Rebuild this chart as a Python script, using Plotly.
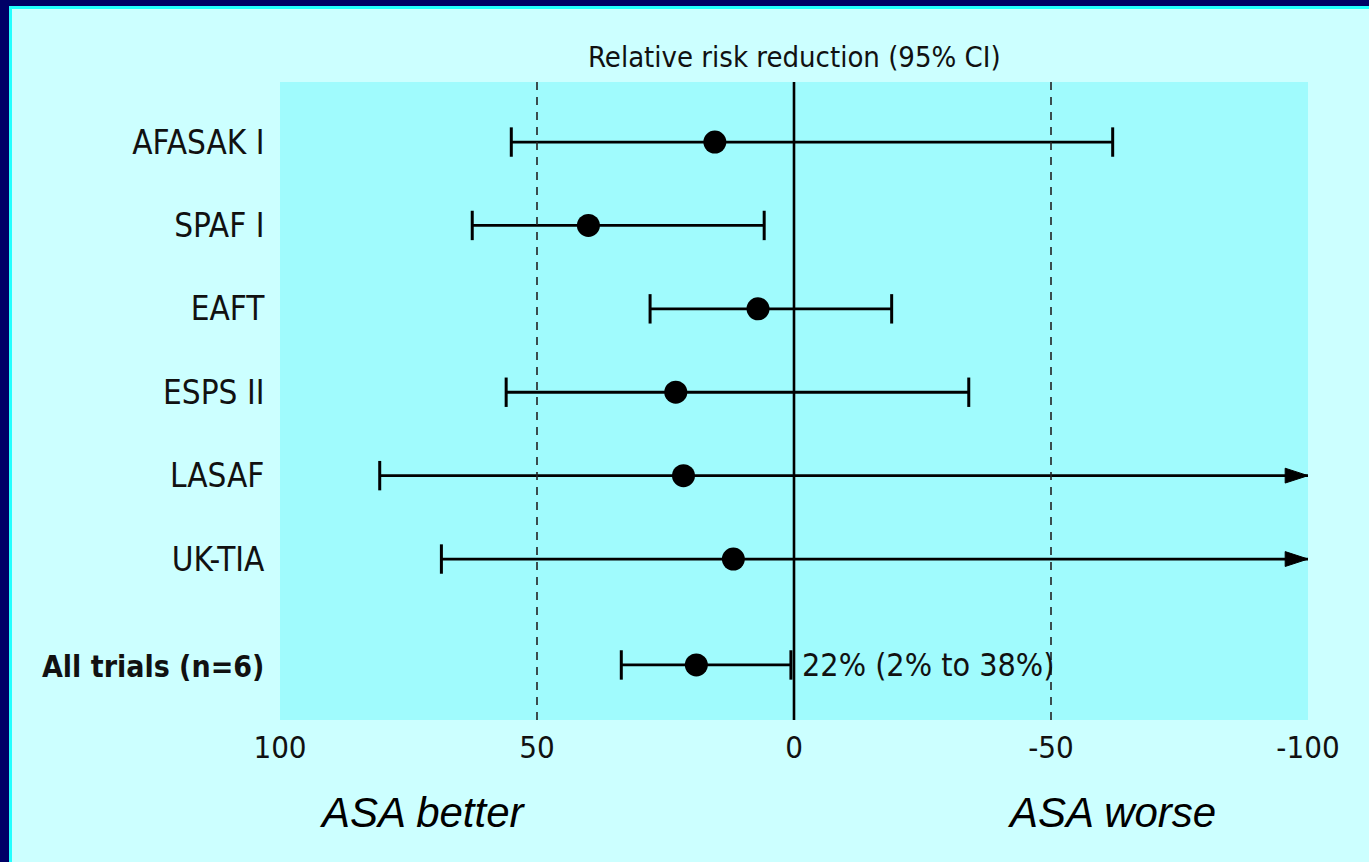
import plotly.graph_objects as go

# ---- data ----
trials = ["AFASAK I", "SPAF I", "EAFT", "ESPS II", "LASAF", "UK-TIA", "All trials (n=6)"]
rrr = [15.4, 40, 7, 23, 21.5, 11.8, 19]          # point estimate (%)
ci_low_side = [55, 62.6, 28, 56, 80.6, 68.6, 33.6]  # upper limit of RRR (left end)
ci_high_side = [-62, 5.8, -19, -34, None, None, 0.6]  # lower limit (right end); None = beyond -100
row_pos = [1, 2, 3, 4, 5, 6, 7.27]
x_ticks = [100, 50, 0, -50, -100]
ref_dashed = [50, -50]
summary_text = "22% (2% to 38%)"

W, H = 1369, 862
ML, MR, MT, MB = 280, 61, 82, 142
PW, PH = W - ML - MR, H - MT - MB

def pxx(p):
    return (p - ML) / PW

def pxy(p):
    return 1 - (p - MT) / PH

NAVY = "#000066"
CYAN = "#22ffff"
PAGE = "#ccffff"
PLOT = "#a0fbfd"
FONT_N = "Liberation Sans Narrow, Arial Narrow, DejaVu Sans Condensed, sans-serif"

fig = go.Figure()

xmin = min(x_ticks)
for i, name in enumerate(trials):
    hi = ci_high_side[i]
    open_end = hi is None
    xe = xmin if open_end else hi
    fig.add_trace(go.Scatter(
        x=[ci_low_side[i], xe], y=[row_pos[i], row_pos[i]],
        mode="lines+markers",
        line=dict(color="#000000", width=2.8),
        marker=dict(
            symbol=["line-ns", "arrow" if open_end else "line-ns"],
            angle=[0, 90 if open_end else 0],
            size=[21, 24 if open_end else 21],
            color="#000000", opacity=1,
            line=dict(color="#000000", width=[3, 1 if open_end else 3]),
        ),
        cliponaxis=False, showlegend=False, hoverinfo="skip",
    ))

fig.add_trace(go.Scatter(
    x=rrr, y=row_pos, mode="markers",
    marker=dict(symbol="circle", size=23, color="black"),
    showlegend=False, cliponaxis=False,
))

shapes = []
for xv in ref_dashed:
    shapes.append(dict(type="line", xref="x", yref="paper", x0=xv, x1=xv, y0=0, y1=1,
                       line=dict(color="#222222", width=1.6, dash="8px,7px"), layer="above"))
shapes.append(dict(type="line", xref="x", yref="paper", x0=0, x1=0, y0=0, y1=1,
                   line=dict(color="black", width=2.6), layer="above"))
# page border (navy + cyan inner line, top and left)
shapes += [
    dict(type="rect", xref="paper", yref="paper", x0=pxx(0), x1=pxx(W), y0=pxy(0), y1=pxy(6),
         fillcolor=NAVY, line=dict(width=0), layer="above"),
    dict(type="rect", xref="paper", yref="paper", x0=pxx(0), x1=pxx(9), y0=pxy(0), y1=pxy(H),
         fillcolor=NAVY, line=dict(width=0), layer="above"),
    dict(type="rect", xref="paper", yref="paper", x0=pxx(9), x1=pxx(W), y0=pxy(6), y1=pxy(9),
         fillcolor=CYAN, line=dict(width=0), layer="above"),
    dict(type="rect", xref="paper", yref="paper", x0=pxx(9), x1=pxx(12), y0=pxy(6), y1=pxy(H),
         fillcolor=CYAN, line=dict(width=0), layer="above"),
]

tick_text = [("<b><span style='font-size:30px'>%s</span></b>" % t) if t.startswith("All") else t
             for t in trials]

annotations = [
    dict(text="Relative risk reduction (95% CI)", xref="x", yref="paper", x=0, y=pxy(57),
         showarrow=False, xanchor="center", yanchor="middle",
         font=dict(family=FONT_N, size=29, color="#111111")),
    dict(text=summary_text, xref="x", yref="y", x=ci_high_side[-1], y=row_pos[-1],
         xanchor="left", yanchor="middle", xshift=9, showarrow=False,
         font=dict(family=FONT_N, size=32, color="#111111")),
    dict(text="<i>ASA better</i>", xref="paper", yref="paper", x=pxx(422), y=pxy(812),
         showarrow=False, xanchor="center", yanchor="middle",
         font=dict(family="Liberation Sans, Arial, sans-serif", size=42, color="black")),
    dict(text="<i>ASA worse</i>", xref="paper", yref="paper", x=pxx(1111), y=pxy(812),
         showarrow=False, xanchor="center", yanchor="middle",
         font=dict(family="Liberation Sans, Arial, sans-serif", size=42, color="black")),
]

fig.update_layout(
    width=W, height=H,
    margin=dict(l=ML, r=MR, t=MT, b=MB, pad=0),
    paper_bgcolor=PAGE, plot_bgcolor=PLOT,
    shapes=shapes, annotations=annotations,
    xaxis=dict(range=[100, -100], tickvals=x_ticks, ticktext=[str(v) for v in x_ticks],
               showgrid=False, zeroline=False, showline=False,
               ticks="", ticklabelstandoff=6,
               tickfont=dict(family=FONT_N, size=31, color="#111111")),
    yaxis=dict(range=[7.93, 0.28], tickvals=row_pos, ticktext=tick_text,
               showgrid=False, zeroline=False, showline=False,
               ticks="outside", ticklen=8, tickcolor="rgba(0,0,0,0)",
               tickfont=dict(family=FONT_N, size=33, color="#111111")),
)

fig.write_html("out.html", config={"displayModeBar": False},
               post_script="document.body.style.margin='0';document.body.style.overflow='hidden';")
